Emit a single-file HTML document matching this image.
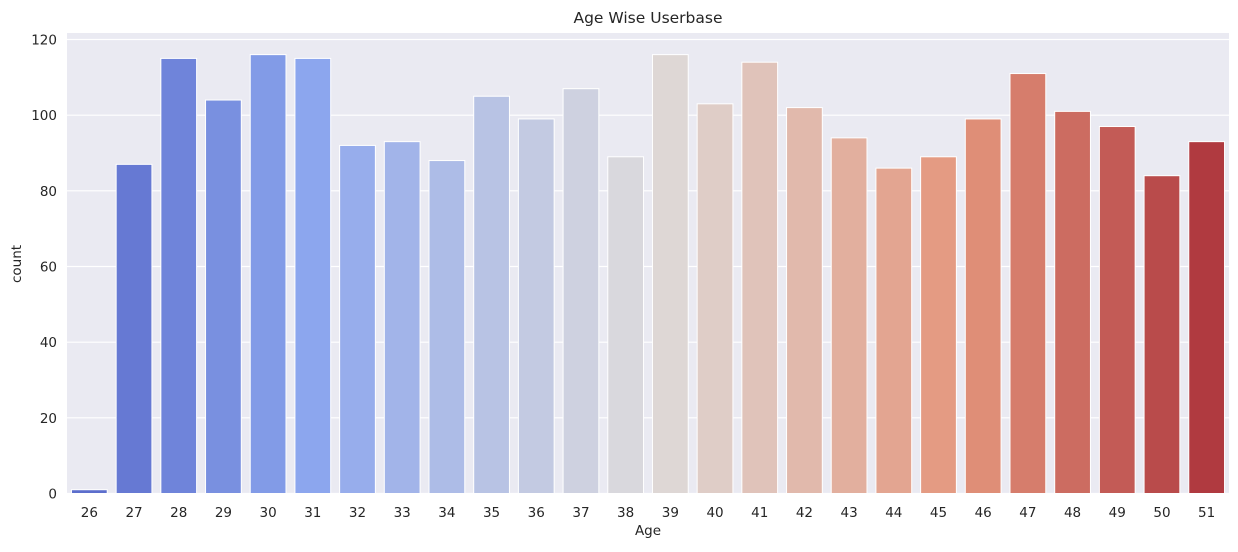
<!DOCTYPE html>
<html><head><meta charset="utf-8"><style>
body{margin:0;background:#fff;}
svg text{font-family:"DejaVu Sans","Liberation Sans",sans-serif;fill:#262626;}
</style></head><body>
<svg width="1238" height="547">
<rect x="67" y="33" width="1162" height="461" fill="#eaeaf2"/>
<g id="grid"></g><g id="bars"></g><g id="ticks"></g>
<text x="648" y="23" text-anchor="middle" font-size="15.5">Age Wise Userbase</text>
<text x="648" y="535" text-anchor="middle" font-size="13.5">Age</text>
<text x="21" y="264" text-anchor="middle" font-size="13.5" transform="rotate(-90 21 264)">count</text>
</svg>
<script>
const categories=["26","27","28","29","30","31","32","33","34","35","36","37","38","39","40","41","42","43","44","45","46","47","48","49","50","51"];
const counts=[1,87,115,104,116,115,92,93,88,105,99,107,89,116,103,114,102,94,86,89,99,111,101,97,84,93];
const yTicks=[0,20,40,60,80,100,120];
const L=67,R=1229,Y0=493.5,Y120=39.5;
const y=v=>Y0-(v/120)*(Y0-Y120);
const band=(R-L)/categories.length;
const x=i=>L+band*i;
const anchors=[[0,[92,110,204]],[0.2,[140,166,238]],[0.5,[222,220,220]],[0.78,[228,150,124]],[1,[176,58,64]]];
function col(t){for(let k=0;k<anchors.length-1;k++){const[a,ca]=anchors[k],[b,cb]=anchors[k+1];if(t<=b){const f=(t-a)/(b-a);return`rgb(${ca.map((c,j)=>Math.round(c+(cb[j]-c)*f)).join(',')})`;}}}
const ns="http://www.w3.org/2000/svg";
const g=document.getElementById('grid'),bg=document.getElementById('bars'),tg=document.getElementById('ticks');
yTicks.forEach(t=>{
 const l=document.createElementNS(ns,'line');
 l.setAttribute('x1',L);l.setAttribute('x2',R);l.setAttribute('y1',y(t));l.setAttribute('y2',y(t));
 l.setAttribute('stroke','#fff');l.setAttribute('stroke-width','1.2');
 
 
 g.appendChild(l);
 const tx=document.createElementNS(ns,'text');
 tx.setAttribute('x',L-10);tx.setAttribute('y',y(t)+5);tx.setAttribute('text-anchor','end');tx.setAttribute('font-size','13.5');
 tx.textContent=t;
 
 
 tg.appendChild(tx);
});
categories.forEach((c,i)=>{
 const w=band*0.8;
 const r=document.createElementNS(ns,'rect');
 r.setAttribute('x',x(i)+band*0.1);r.setAttribute('width',w);
 r.setAttribute('y',y(counts[i]));r.setAttribute('height',Y0-y(counts[i]));
 r.setAttribute('fill',col(i/(categories.length-1)));r.setAttribute('stroke','#fff');r.setAttribute('stroke-width','1');
 
 
 bg.appendChild(r);
 const tx=document.createElementNS(ns,'text');
 tx.setAttribute('x',x(i)+band/2);tx.setAttribute('y',517);tx.setAttribute('text-anchor','middle');tx.setAttribute('font-size','13.5');
 tx.textContent=c;
 
 
 tg.appendChild(tx);
});
</script>
</body></html>
